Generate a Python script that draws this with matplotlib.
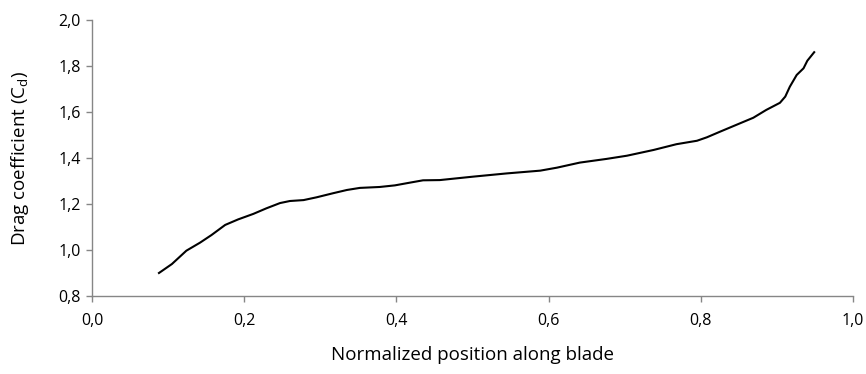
import matplotlib
matplotlib.use('Agg')
import matplotlib.pyplot as plt
from matplotlib.ticker import FuncFormatter

plt.rcParams['font.family'] = ['Open Sans', 'DejaVu Sans']

# Drag coefficient along the blade
position = [0.088, 0.105, 0.124, 0.142, 0.157, 0.175, 0.192, 0.212, 0.229, 0.247,
            0.260, 0.278, 0.295, 0.317, 0.335, 0.352, 0.378, 0.398, 0.418, 0.435,
            0.457, 0.501, 0.545, 0.589, 0.611, 0.641, 0.676, 0.703, 0.738, 0.768,
            0.795, 0.808, 0.825, 0.843, 0.869, 0.886, 0.904, 0.911, 0.917, 0.926,
            0.935, 0.940, 0.949]
drag_coeff = [0.900, 0.939, 0.997, 1.032, 1.065, 1.109, 1.133, 1.157, 1.181, 1.204,
              1.213, 1.217, 1.229, 1.247, 1.261, 1.270, 1.274, 1.281, 1.293, 1.303,
              1.304, 1.319, 1.333, 1.345, 1.358, 1.380, 1.396, 1.410, 1.435, 1.460,
              1.475, 1.490, 1.514, 1.539, 1.575, 1.609, 1.640, 1.667, 1.710, 1.761,
              1.790, 1.823, 1.860]

x_ticks = [0.0, 0.2, 0.4, 0.6, 0.8, 1.0]
y_ticks = [0.8, 1.0, 1.2, 1.4, 1.6, 1.8, 2.0]

fig = plt.figure(figsize=(8.66, 3.74), dpi=100)
ax = fig.add_axes([92 / 866, 1 - 296 / 374, 761 / 866, 276 / 374])

ax.plot(position, drag_coeff, color='black', linewidth=1.5)

ax.set_xlim(0, 1.0)
ax.set_ylim(0.8, 2.0)
ax.set_xticks(x_ticks)
ax.set_yticks(y_ticks)
comma = FuncFormatter(lambda v, p: f"{v:.1f}".replace('.', ','))
ax.xaxis.set_major_formatter(comma)
ax.yaxis.set_major_formatter(comma)

for side in ['top', 'right']:
    ax.spines[side].set_visible(False)
for side in ['left', 'bottom']:
    ax.spines[side].set_color('#868686')
    ax.spines[side].set_linewidth(1.0)
ax.tick_params(axis='both', direction='out', length=4, width=1.0,
               color='#868686', labelsize=11.5, labelcolor='black')
ax.tick_params(axis='x', pad=8)
ax.tick_params(axis='y', pad=4)

ax.set_xlabel('Normalized position along blade', fontsize=13.5)
ax.set_ylabel('Drag coefficient (C$_\\mathregular{d}$)', fontsize=13.5)
ax.xaxis.set_label_coords(0.5, -59 / 276, transform=ax.transAxes)
ax.yaxis.set_label_coords(-72 / 761, 0.5, transform=ax.transAxes)
ax.xaxis.label.set_va('center')
ax.yaxis.label.set_va('center')

fig.savefig('out.png', dpi=100)
